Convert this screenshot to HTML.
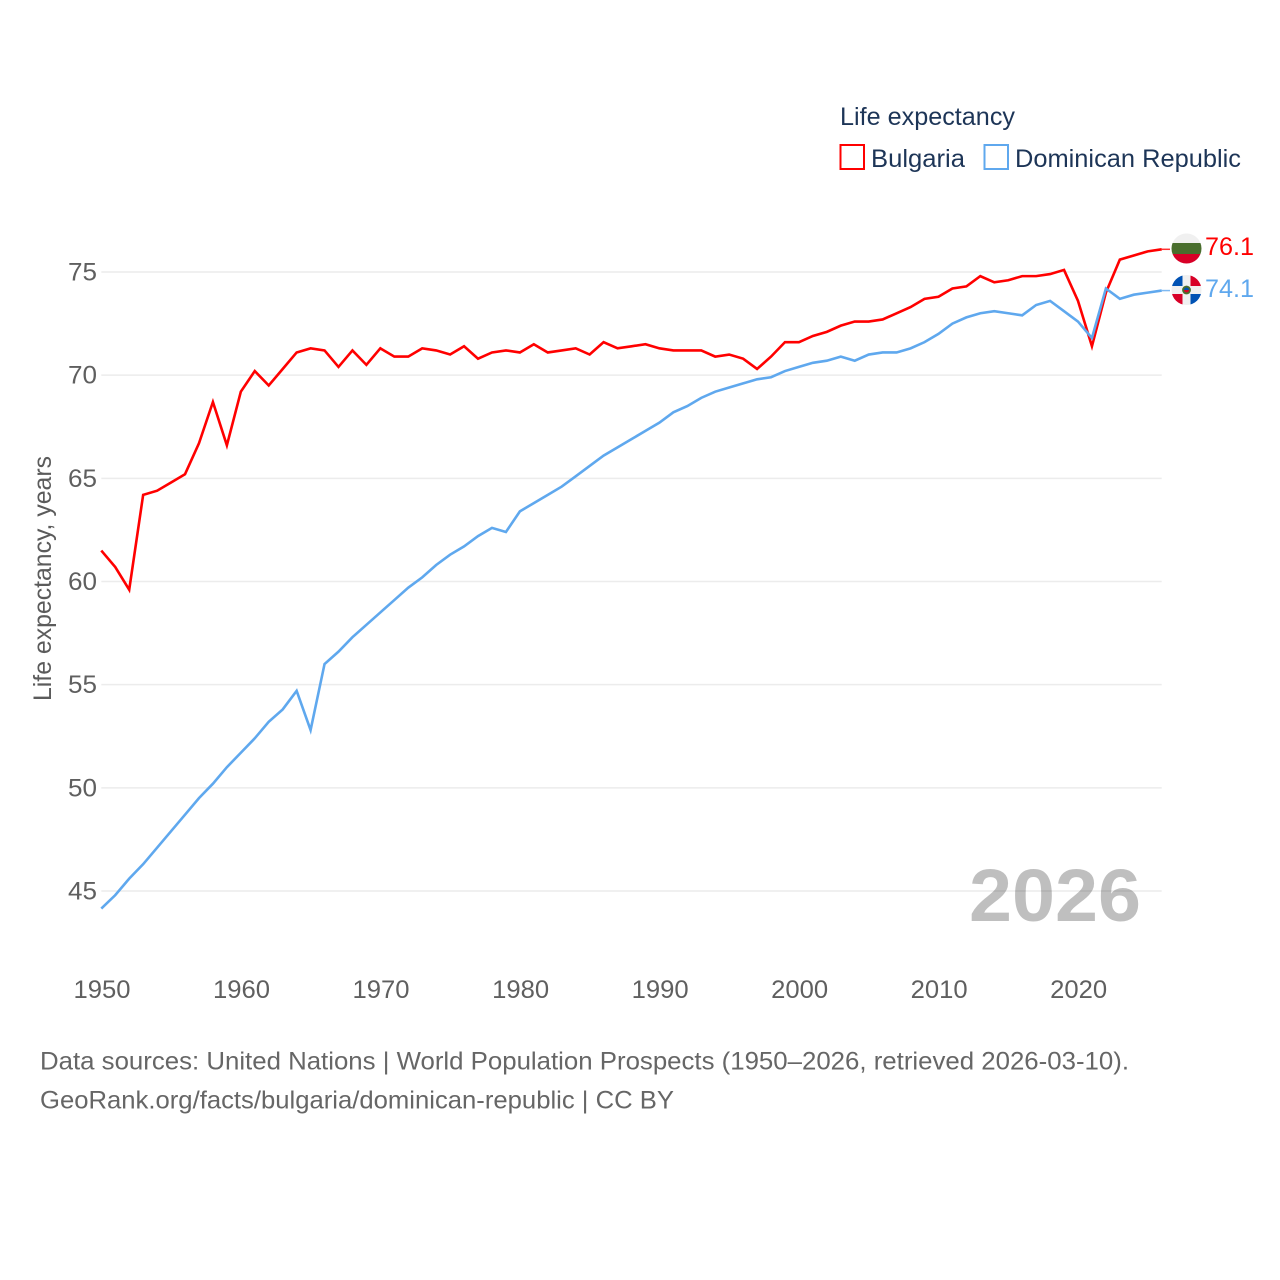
<!DOCTYPE html>
<html lang="en">
<head>
<meta charset="utf-8">
<title>Life expectancy: Bulgaria and Dominican Republic</title>
<style>
html,body{margin:0;padding:0;background:#fff;width:1280px;height:1280px;overflow:hidden}
svg{display:block}
text{font-family:"Liberation Sans",sans-serif}
</style>
</head>
<body>
<svg id="chart" xmlns="http://www.w3.org/2000/svg" width="1280" height="1280" viewBox="0 0 1280 1280">
  <defs>
    <clipPath id="clip-bg"><circle cx="1186.5" cy="248.5" r="15"/></clipPath>
    <clipPath id="clip-do"><circle cx="1186.5" cy="290" r="15"/></clipPath>
  </defs>
  <rect width="1280" height="1280" fill="#fff"/>
  <g id="grid"></g>
  <g id="yticks"></g>
  <g id="xticks"></g>
  <text transform="translate(51 701) rotate(-90)" font-size="25" fill="#5b5b5b" textLength="245" lengthAdjust="spacingAndGlyphs">Life expectancy, years</text>
  <text x="969" y="921" font-size="74" font-weight="700" fill="#000" fill-opacity="0.25" textLength="172" lengthAdjust="spacingAndGlyphs">2026</text>
  <g id="series"></g>

  <g clip-path="url(#clip-bg)">
    <rect x="1171" y="233" width="31" height="10.5" fill="#f0f0f0"/>
    <rect x="1171" y="243" width="31" height="11" fill="#496e2d"/>
    <rect x="1171" y="254" width="31" height="11" fill="#d80027"/>
  </g>
  <g clip-path="url(#clip-do)">
    <rect x="1171" y="275" width="31" height="30" fill="#f0f0f0"/>
    <rect x="1171" y="275" width="11.5" height="11" fill="#0052b4"/>
    <rect x="1190.5" y="275" width="12" height="11" fill="#d80027"/>
    <rect x="1171" y="294" width="11.5" height="11" fill="#d80027"/>
    <rect x="1190.5" y="294" width="12" height="11" fill="#0052b4"/>
    <circle cx="1186.5" cy="290" r="4.4" fill="#496e2d"/>
    <path d="M1184 290a2.5 2.5 0 0 1 5 0z" fill="#0052b4"/>
    <path d="M1184 290a2.5 2.5 0 0 0 5 0z" fill="#d80027"/>
  </g>
  <text x="1205" y="255" font-size="25" fill="#ff0000" textLength="49" lengthAdjust="spacingAndGlyphs">76.1</text>
  <text x="1205" y="297" font-size="25" fill="#5fa8ee" textLength="49" lengthAdjust="spacingAndGlyphs">74.1</text>

  <g>
    <text x="840" y="125" font-size="25" fill="#1d3557" textLength="175" lengthAdjust="spacingAndGlyphs">Life expectancy</text>
    <rect x="840.5" y="145" width="23.5" height="24" fill="none" stroke="#ff0000" stroke-width="2"/>
    <text x="871" y="167" font-size="25" fill="#1d3557" textLength="94" lengthAdjust="spacingAndGlyphs">Bulgaria</text>
    <rect x="984.5" y="145" width="23.5" height="24" fill="none" stroke="#5fa8ee" stroke-width="2"/>
    <text x="1015" y="167" font-size="25" fill="#1d3557" textLength="226" lengthAdjust="spacingAndGlyphs">Dominican Republic</text>
  </g>

  <text x="40" y="1069.5" font-size="25" fill="#666" textLength="1089" lengthAdjust="spacingAndGlyphs">Data sources: United Nations | World Population Prospects (1950–2026, retrieved 2026-03-10).</text>
  <text x="40" y="1108.5" font-size="25" fill="#666" textLength="634" lengthAdjust="spacingAndGlyphs">GeoRank.org/facts/bulgaria/dominican-republic | CC BY</text>
</svg>
<script>
var startYear = 1950;
var bulgariaValues = [61.5,60.7,59.6,64.2,64.4,64.8,65.2,66.7,68.7,66.6,69.2,70.2,69.5,70.3,71.1,71.3,71.2,70.4,71.2,70.5,71.3,70.9,70.9,71.3,71.2,71.0,71.4,70.8,71.1,71.2,71.1,71.5,71.1,71.2,71.3,71.0,71.6,71.3,71.4,71.5,71.3,71.2,71.2,71.2,70.9,71.0,70.8,70.3,70.9,71.6,71.6,71.9,72.1,72.4,72.6,72.6,72.7,73.0,73.3,73.7,73.8,74.2,74.3,74.8,74.5,74.6,74.8,74.8,74.9,75.1,73.6,71.4,74.0,75.6,75.8,76.0,76.1];
var dominicanValues = [44.15,44.8,45.6,46.3,47.1,47.9,48.7,49.5,50.2,51.0,51.7,52.4,53.2,53.8,54.7,52.8,56.0,56.6,57.3,57.9,58.5,59.1,59.7,60.2,60.8,61.3,61.7,62.2,62.6,62.4,63.4,63.8,64.2,64.6,65.1,65.6,66.1,66.5,66.9,67.3,67.7,68.2,68.5,68.9,69.2,69.4,69.6,69.8,69.9,70.2,70.4,70.6,70.7,70.9,70.7,71.0,71.1,71.1,71.3,71.6,72.0,72.5,72.8,73.0,73.1,73.0,72.9,73.4,73.6,73.1,72.6,71.8,74.2,73.7,73.9,74.0,74.1];
var yTickValues = [45,50,55,60,65,70,75];
var xTickValues = [1950,1960,1970,1980,1990,2000,2010,2020];

var NS = 'http://www.w3.org/2000/svg';
function xScale(year){ return 101.3 + (year - 1950) * (1161.7 - 101.3) / 76; }
function yScale(v){ return 272 + (75 - v) * (891 - 272) / 30; }
function make(tag, parent, attrs){
  var el = document.createElementNS(NS, tag);
  for (var k in attrs) el.setAttribute(k, attrs[k]);
  parent.appendChild(el);
  return el;
}
var gridG = document.getElementById('grid');
var yG = document.getElementById('yticks');
var xG = document.getElementById('xticks');
var seriesG = document.getElementById('series');

yTickValues.forEach(function(v){
  var line = make('line', gridG, {x1:xScale(1950), x2:xScale(2026), y1:yScale(v), y2:yScale(v), stroke:'#ececec', 'stroke-width':1.5});
  
  
  var t = make('text', yG, {x:97, y:yScale(v) + 8.5, 'text-anchor':'end', 'font-size':25, fill:'#5f5f5f', textLength:29, lengthAdjust:'spacingAndGlyphs'});
  t.textContent = String(v);
  
  
});
xTickValues.forEach(function(y){
  var t = make('text', xG, {x:xScale(y) + 0.7, y:998, 'text-anchor':'middle', 'font-size':25, fill:'#5f5f5f', textLength:57, lengthAdjust:'spacingAndGlyphs'});
  t.textContent = String(y);
  
  
});
function drawSeries(values, color, name){
  var pts = values.map(function(v, i){ return xScale(startYear + i).toFixed(2) + ',' + yScale(v).toFixed(2); });
  var line = make('polyline', seriesG, {points:pts.join(' '), fill:'none', stroke:color, 'stroke-width':2.6, 'stroke-linejoin':'miter'});
  
  
  var lastY = yScale(values[values.length - 1]);
  var conn = make('line', seriesG, {x1:xScale(startYear + values.length - 1), x2:1170, y1:lastY, y2:lastY, stroke:color, 'stroke-width':1.5, opacity:0.8});
  
  
}
drawSeries(bulgariaValues, '#ff0000', 'bulgaria');
drawSeries(dominicanValues, '#5fa8ee', 'dominican-republic');
</script>
</body>
</html>
